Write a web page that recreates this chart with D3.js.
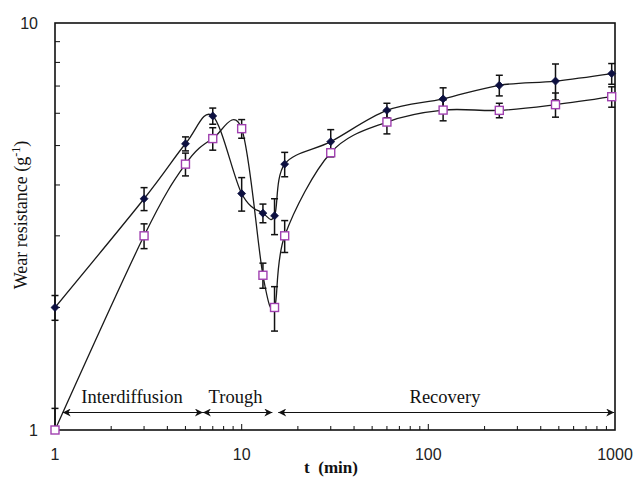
<!DOCTYPE html>
<html>
<head>
<meta charset="utf-8">
<script src="https://cdn.jsdelivr.net/npm/d3@7/dist/d3.min.js"></script>
<style>
  html, body { margin: 0; padding: 0; background: #fff; }
  svg { display: block; }
</style>
</head>
<body>
<svg id="chart" width="637" height="477"></svg>
<script>
// Wear resistance vs. time (log–log), two alloy series with error bars
const times      = [1, 3, 5, 7, 10, 13, 15, 17, 30, 60, 120, 240, 480, 960];
const seriesA    = [2.00, 3.70, 5.05, 5.91, 3.81, 3.41, 3.36, 4.50, 5.11, 6.10, 6.51, 7.03, 7.20, 7.51];
const seriesAErr = [0.14, 0.24, 0.20, 0.27, 0.36, 0.18, 0.34, 0.31, 0.36, 0.25, 0.42, 0.41, 0.73, 0.44];
const seriesB    = [1.00, 3.00, 4.50, 5.20, 5.50, 2.40, 2.00, 3.00, 4.80, 5.71, 6.11, 6.10, 6.30, 6.59];
const seriesBErr = [0.13, 0.21, 0.29, 0.33, 0.29, 0.17, 0.25, 0.27, 0.11, 0.37, 0.36, 0.25, 0.43, 0.38];

const xTickLabels = ["1", "10", "100", "1000"];
const yTickLabels = ["1", "10"];

// Stage spans along the time axis: [label, start, end]
const stageNames  = ["Interdiffusion", "Trough", "Recovery"];
const stageStarts = [1.10, 6.2, 15.7];
const stageEnds   = [6.2, 14.6, 990];

const svg = d3.select("#chart");
const margin = { left: 55, right: 22, top: 23, bottom: 47 };
const W = 637, H = 477;

const x = d3.scaleLog().domain([1, 1000]).range([margin.left, W - margin.right]);
const y = d3.scaleLog().domain([1, 10]).range([H - margin.bottom, margin.top]);

const x0 = x.range()[0], x1 = x.range()[1];
const yb = y.range()[0], yt = y.range()[1];

const defs = svg.append("defs");
defs.append("clipPath").attr("id", "plotClip")
  .append("rect").attr("x", x0).attr("y", yt).attr("width", x1 - x0).attr("height", yb - yt);
// error bars may spill sideways past the frame, but not below/above it
defs.append("clipPath").attr("id", "barClip")
  .append("rect").attr("x", x0 - 10).attr("y", yt).attr("width", x1 - x0 + 20).attr("height", yb - yt);

// arrowhead for stage spans
defs.append("marker")
  .attr("id", "arrowEnd")
  .attr("viewBox", "0 0 10 10")
  .attr("refX", 10).attr("refY", 5)
  .attr("markerWidth", 9).attr("markerHeight", 8)
  .attr("markerUnits", "userSpaceOnUse")
  .attr("orient", "auto-start-reverse")
  .append("path")
  .attr("d", "M0,0 L10,5 L0,10 L3,5 Z")
  .attr("fill", "#111");

// ---- minor / major ticks (inside the frame) ----
const xTicksAll = x.ticks();
const yTicksAll = y.ticks();
const isDecade = t => Math.abs(Math.log10(t) - Math.round(Math.log10(t))) < 1e-9;
const ticks = svg.append("g").attr("stroke", "#222").attr("stroke-width", 1.1);
xTicksAll.forEach(t => {
  if (t === 1 || t === 1000) return;
  ticks.append("line")
    .attr("x1", x(t)).attr("x2", x(t))
    .attr("y1", yb).attr("y2", yb - (isDecade(t) ? 6 : 4));
});
yTicksAll.forEach(t => {
  if (t === 1 || t === 10) return;
  ticks.append("line")
    .attr("x1", x0).attr("x2", x0 + 5)
    .attr("y1", y(t)).attr("y2", y(t));
});

// ---- stage arrows and labels ----
const arrowY = 412.5;
const stages = svg.append("g");
stageNames.forEach((name, i) => {
  stages.append("line")
    .attr("x1", x(stageStarts[i])).attr("x2", x(stageEnds[i]))
    .attr("y1", arrowY).attr("y2", arrowY)
    .attr("stroke", "#111").attr("stroke-width", 1.2)
    .attr("marker-start", "url(#arrowEnd)")
    .attr("marker-end", "url(#arrowEnd)");
});
const labelCenters = [132, 235.5, 445];
stageNames.forEach((name, i) => {
  stages.append("text")
    .attr("x", labelCenters[i]).attr("y", 403)
    .attr("text-anchor", "middle")
    .attr("font-family", "'Liberation Serif', 'Times New Roman', serif")
    .attr("font-size", 18.5)
    .attr("fill", "#111")
    .text(name);
});

// ---- series ----
const plot = svg.append("g").attr("clip-path", "url(#plotClip)");
const line = d3.line()
  .x(d => x(d.t)).y(d => y(d.v))
  .curve(d3.curveCardinal.tension(0));

const dataA = times.map((t, i) => ({ t, v: seriesA[i], e: seriesAErr[i] }));
const dataB = times.map((t, i) => ({ t, v: seriesB[i], e: seriesBErr[i] }));

[dataA, dataB].forEach(data => {
  plot.append("path").datum(data)
    .attr("d", line)
    .attr("fill", "none")
    .attr("stroke", "#1a1a1a")
    .attr("stroke-width", 1.3);
});

// error bars
const bars = svg.append("g").attr("clip-path", "url(#barClip)");
function errorBars(data) {
  const g = bars.append("g").attr("stroke", "#111").attr("stroke-width", 1.5);
  data.forEach(d => {
    const cx = x(d.t);
    const top = y(d.v + d.e), bot = y(d.v - d.e);
    g.append("line").attr("x1", cx).attr("x2", cx).attr("y1", top).attr("y2", bot);
    g.append("line").attr("x1", cx - 3.5).attr("x2", cx + 3.5).attr("y1", top).attr("y2", top);
    g.append("line").attr("x1", cx - 3.5).attr("x2", cx + 3.5).attr("y1", bot).attr("y2", bot);
  });
}
errorBars(dataA);
errorBars(dataB);

// ---- frame ----
svg.append("rect")
  .attr("x", x0).attr("y", yt)
  .attr("width", x1 - x0).attr("height", yb - yt)
  .attr("fill", "none").attr("stroke", "#111").attr("stroke-width", 1.6);

// markers (drawn unclipped so edge points stay whole)
const marks = svg.append("g");
marks.selectAll("path.diamond").data(dataA).enter().append("path")
  .attr("class", "diamond")
  .attr("d", d3.symbol().type(d3.symbolDiamond2).size(40))
  .attr("transform", d => `translate(${x(d.t)},${y(d.v)})`)
  .attr("fill", "#0d1040")
  .attr("stroke", "#0d1040")
  .attr("stroke-width", 0.8);

marks.selectAll("rect.sq").data(dataB).enter().append("rect")
  .attr("class", "sq")
  .attr("x", d => x(d.t) - 4).attr("y", d => y(d.v) - 4)
  .attr("width", 8).attr("height", 8)
  .attr("fill", "#fff")
  .attr("stroke", "#a040b0")
  .attr("stroke-width", 1.4);

// ---- tick labels ----
const tickFont = "'Liberation Sans', Arial, sans-serif";
const xLabelVals = xTicksAll.filter(isDecade);
svg.append("g").selectAll("text").data(xLabelVals).enter().append("text")
  .attr("x", d => x(d)).attr("y", 460)
  .attr("text-anchor", "middle")
  .attr("font-family", tickFont).attr("font-size", 16)
  .attr("fill", "#222")
  .text((d, i) => xTickLabels[i]);

const yLabelVals = yTicksAll.filter(t => t === 1 || t === 10);
svg.append("g").selectAll("text").data(yLabelVals).enter().append("text")
  .attr("x", 38).attr("y", d => y(d) + 6)
  .attr("text-anchor", "end")
  .attr("font-family", tickFont).attr("font-size", 16)
  .attr("fill", "#222")
  .text((d, i) => yTickLabels[i]);

// ---- axis titles ----
const serif = "'Liberation Serif', 'Times New Roman', serif";
svg.append("text")
  .attr("x", 331).attr("y", 473)
  .attr("text-anchor", "middle")
  .attr("font-family", serif).attr("font-size", 17).attr("font-weight", "bold")
  .attr("fill", "#111")
  .attr("xml:space", "preserve")
  .text("t  (min)");

const yTitle = svg.append("text")
  .attr("transform", "translate(27,215) rotate(-90)")
  .attr("text-anchor", "middle")
  .attr("font-family", serif).attr("font-size", 18)
  .attr("fill", "#111");
yTitle.append("tspan").text("Wear resistance (g");
yTitle.append("tspan").attr("font-size", 12).attr("dy", -7).text("-1");
yTitle.append("tspan").attr("dy", 7).text(")");
</script>
</body>
</html>
